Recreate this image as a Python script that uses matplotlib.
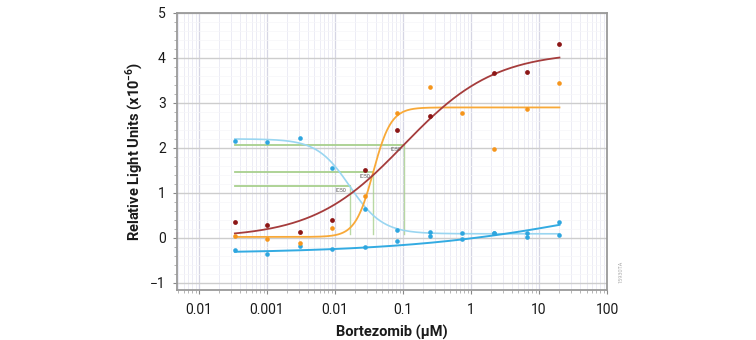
import numpy as np
import matplotlib
matplotlib.use('Agg')
import matplotlib.pyplot as plt
from matplotlib.ticker import FixedLocator, NullFormatter, MultipleLocator

plt.rcParams['font.family'] = ['Roboto', 'DejaVu Sans']
plt.rcParams['mathtext.fontset'] = 'custom'
plt.rcParams['mathtext.rm'] = 'Roboto'
plt.rcParams['mathtext.bf'] = 'Roboto:bold'

# ---- data (concentrations in µM, responses in RLU x10^-6) ----
conc = [0.000339, 0.00102, 0.00305, 0.00914, 0.0274, 0.0823, 0.247, 0.741, 2.22, 6.67, 20.0]
red_vals = [0.35, 0.29, 0.13, 0.40, 1.51, 2.40, 2.71, np.nan, 3.67, 3.69, 4.31]
orange_vals = [0.04, -0.02, -0.12, 0.22, 0.92, 2.78, 3.36, 2.78, 1.98, 2.87, 3.44]
light_vals = [2.16, 2.13, 2.22, 1.56, 0.64, 0.18, 0.12, 0.10, 0.10, 0.10, 0.07]
blue_vals = [-0.28, -0.36, -0.19, -0.25, -0.21, -0.06, 0.03, -0.02, 0.10, 0.02, 0.35]

# 4PL fit parameters: [start, end, IC50, hill]
red_fit = [0.0, 4.14, 0.1035, 0.65]
orange_fit = [0.02, 2.90, 0.0366, 3.3]
light_fit = [2.20, 0.09, 0.0166, 1.8]
blue_fit = [-0.347, 1.32, 100.0, 0.3]

xtick_vals = [1e-4, 1e-3, 1e-2, 1e-1, 1, 10, 100]
xtick_labels = ['0.01', '0.001', '0.01', '0.1', '1', '10', '100']
ytick_vals = [-1, 0, 1, 2, 3, 4, 5]


def fourpl(x, p):
    s, e, c, h = p
    return s + (e - s) / (1 + (c / x) ** h)


fig = plt.figure(figsize=(7.56, 3.4), dpi=100)
ax = fig.add_axes([177 / 756, 1 - 290 / 340, (607 - 177) / 756, (290 - 13) / 340])

ax.set_xscale('log')
ax.set_xlim(10 ** -4.32, 10 ** 2.0)
ax.set_ylim(-1.16, 5.0)

# grid
ax.xaxis.set_major_locator(FixedLocator(xtick_vals))
minor = [m * 10.0 ** d for d in range(-5, 2) for m in range(2, 10)]
ax.xaxis.set_minor_locator(FixedLocator(minor))
ax.xaxis.set_minor_formatter(NullFormatter())
ax.set_xticklabels(xtick_labels)
ax.yaxis.set_major_locator(FixedLocator(ytick_vals))
ax.yaxis.set_minor_locator(MultipleLocator(0.2))
ax.grid(which='major', axis='x', color='#d6d6e4', lw=0.9, zorder=0)
ax.grid(which='minor', axis='x', color='#ececf5', lw=0.7, zorder=0)
ax.grid(which='major', axis='y', color='#cdcdcd', lw=1.0, zorder=0)
ax.grid(which='minor', axis='y', color='#f5f5f8', lw=0.5, zorder=0)
ax.set_axisbelow(True)

xs = np.logspace(np.log10(conc[0]), np.log10(conc[-1]), 400)

# IC50 guide lines
green = '#a8d08d'
for p in (red_fit, orange_fit, light_fit):
    mid = (p[0] + p[1]) / 2
    ax.plot([conc[0], p[2]], [mid, mid], color=green, lw=1.3, zorder=2)
    ax.plot([p[2], p[2]], [0.08, mid], color=green, lw=1.0, alpha=0.8, zorder=2)
    ax.text(p[2] * 0.9, mid - 0.04, 'IC50', fontsize=3.8, color='#555555',
            ha='right', va='top', zorder=5)

# curves
ax.plot(xs, fourpl(xs, light_fit), color='#9ad6f1', lw=1.2, zorder=3)
ax.plot(xs, fourpl(xs, blue_fit), color='#33abe2', lw=1.4, zorder=3)
ax.plot(xs, fourpl(xs, orange_fit), color='#f8a938', lw=1.3, zorder=3)
ax.plot(xs, fourpl(xs, red_fit), color='#a53c3c', lw=1.3, zorder=3)

# points
ax.scatter(conc, light_vals, s=11, color='#2ea6df', zorder=4, lw=0)
ax.scatter(conc, blue_vals, s=11, color='#2ea6df', zorder=4, lw=0)
ax.scatter(conc, red_vals, s=12, color='#8c1616', zorder=4, lw=0)
ax.scatter(conc, orange_vals, s=11, color='#f5951c', zorder=4, lw=0)

for sp in ax.spines.values():
    sp.set_color('#9a9a9a')
    sp.set_linewidth(1.3)

ax.tick_params(which='major', axis='both', color='#888888', length=3, width=0.8,
               labelsize=10, labelcolor='#1a1a1a')
ax.tick_params(which='major', axis='x', pad=6)
ax.tick_params(which='major', axis='y', pad=5)
ax.tick_params(which='minor', axis='both', color='#aaaaaa', length=2, width=0.6)

ax.set_xlabel('Bortezomib (µM)', fontsize=10.5, fontweight='bold', color='#1a1a1a', labelpad=6)
ax.set_ylabel(r'Relative Light Units (x10$^{\mathbf{-6}}$)', fontsize=10.5,
              fontweight='bold', color='#1a1a1a', labelpad=4)

fig.text(621 / 756, 1 - 272 / 340, '15930TA', rotation=90, fontsize=4,
         color='#b0b0b0', ha='center', va='center')

fig.savefig('out.png', dpi=100)
